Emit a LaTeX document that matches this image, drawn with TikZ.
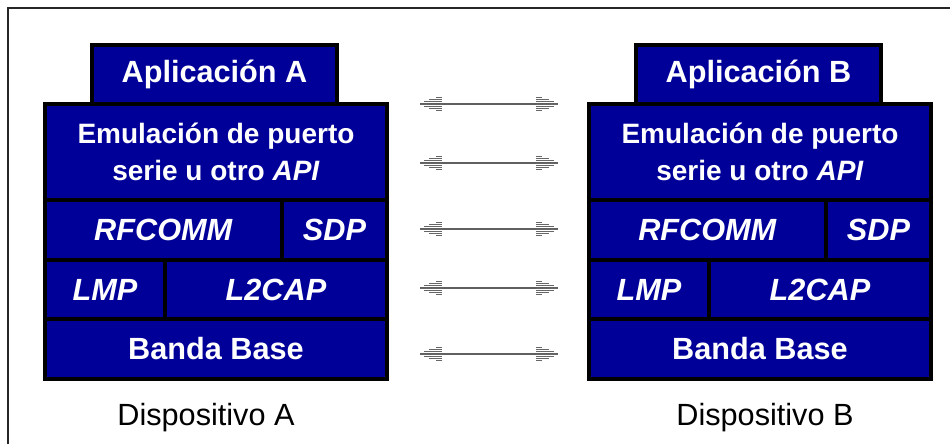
\documentclass[tikz,border=0pt]{standalone}
\usepackage{fontspec}
\setmainfont{Liberation Sans}
\usetikzlibrary{calc}
\definecolor{layerblue}{RGB}{0,0,153}

% one protocol layer: name, left, top, right, bottom, text
\newcommand\layercell[7][]{%
  \node[cell,#1,minimum width={(#4-#2)*0.75pt},minimum height={(#6-#3)*0.75pt}]
    (#7) at (#2,#3) {#5};}

% double-headed link with hatched heads between two coordinates
\newcommand\peerlink[2]{%
  \draw[shaft] (#1) -- (#2);
  \foreach \k/\len in {0/22,1/18,2/13,3/6,-1/18,-2/13,-3/6}{%
    \draw[hatch] ($(#1)+(22-\len,2.1*\k)$) -- ($(#1)+(22,2.1*\k)$);
    \draw[hatch] ($(#2)+(\len-22,2.1*\k)$) -- ($(#2)+(-22,2.1*\k)$);
  }}

\begin{document}
\begin{tikzpicture}[x=0.75pt,y=-0.75pt,
  cell/.style={draw=black,line width=3pt,fill=layerblue,text=white,
    font=\fontsize{23}{27}\selectfont\bfseries,inner sep=0pt,
    anchor=north west,align=center},
  emu/.style={font=\fontsize{21}{27.75}\selectfont\bfseries},
  caption/.style={font=\fontsize{23}{27}\selectfont,inner sep=0pt},
  shaft/.style={draw=gray!75!black,line width=0.9pt},
  hatch/.style={draw=black!60,line width=0.7pt}]

\useasboundingbox (0,0) rectangle (950,444);

% outer frame (open on the right and at the bottom)
\draw[line width=1.5pt,black!85] (8,444) -- (8,8) -- (950,8);

% stack of device A
\layercell{90}{43}{335}{Aplicación A}{102}{appA}
\layercell[emu]{43}{102}{385}{Emulación de puerto\\serie u otro \textit{API}}{198}{emuA}
\layercell{43}{198}{280}{\textit{RFCOMM}}{258}{rfcA}
\layercell{280}{198}{385}{\textit{SDP}}{258}{sdpA}
\layercell{43}{258}{163}{\textit{LMP}}{317}{lmpA}
\layercell{163}{258}{385}{\textit{L2CAP}}{317}{l2cA}
\layercell{43}{317}{385}{Banda Base}{377}{bbA}

% stack of device B
\layercell{634}{43}{879}{Aplicación B}{102}{appB}
\layercell[emu]{587}{102}{929}{Emulación de puerto\\serie u otro \textit{API}}{198}{emuB}
\layercell{587}{198}{824}{\textit{RFCOMM}}{258}{rfcB}
\layercell{824}{198}{929}{\textit{SDP}}{258}{sdpB}
\layercell{587}{258}{707}{\textit{LMP}}{317}{lmpB}
\layercell{707}{258}{929}{\textit{L2CAP}}{317}{l2cB}
\layercell{587}{317}{929}{Banda Base}{377}{bbB}

% device captions
\node[caption] (devA) at (206,418) {Dispositivo A};
\node[caption] (devB) at (765,418) {Dispositivo B};

% peer-to-peer links between the layers
\foreach \n/\y in {1/104,2/163,3/229,4/288,5/354}{
  \coordinate (la\n) at (420,\y);
  \coordinate (lb\n) at (558,\y);
}
\peerlink{la1}{lb1}
\peerlink{la2}{lb2}
\peerlink{la3}{lb3}
\peerlink{la4}{lb4}
\peerlink{la5}{lb5}
\end{tikzpicture}
\end{document}
